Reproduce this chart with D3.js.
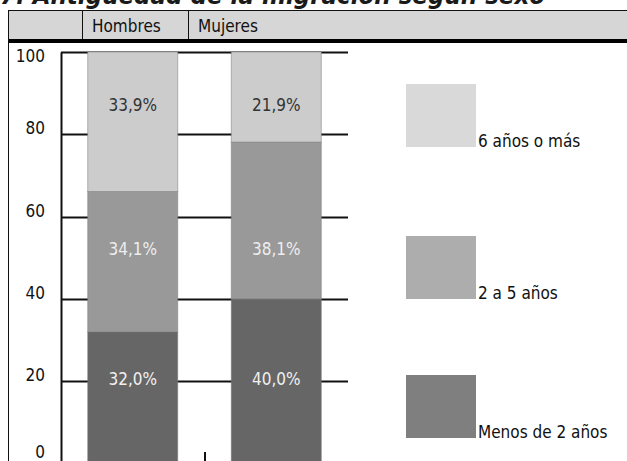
<!DOCTYPE html>
<html>
<head>
<meta charset="utf-8">
<script src="https://cdn.jsdelivr.net/npm/d3@7"></script>
<style>
  html, body { margin: 0; padding: 0; background: #fff; }
  svg { display: block; }
  text { font-family: "Liberation Sans Narrow", "DejaVu Sans Condensed", "Roboto Condensed", sans-serif; }
</style>
</head>
<body>
<svg id="chart" width="627" height="461"></svg>
<script>
// Antigüedad de la migración por sexo (porcentaje acumulado)
const titleText = "7. Antigüedad de la migración según sexo";
const categories = ["Hombres", "Mujeres"];
const seriesNames = ["Menos de 2 años", "2 a 5 años", "6 años o más"];
const menosDe2 = [32.0, 40.0];
const de2a5 = [34.1, 38.1];
const seisOMas = [33.9, 21.9];
const yTicks = [0, 20, 40, 60, 80, 100];

const barColors = ["#666666", "#999999", "#cccccc"];
const legendColors = ["#7f7f7f", "#adadad", "#d9d9d9"];
const labelColors = ["#f0f0f0", "#eeeeee", "#333333"];

const fmt = v => v.toFixed(1).replace(".", ",") + "%";

const rows = categories.map((c, i) => ({
  cat: c,
  [seriesNames[0]]: menosDe2[i],
  [seriesNames[1]]: de2a5[i],
  [seriesNames[2]]: seisOMas[i]
}));
const stacked = d3.stack().keys(seriesNames)(rows);

const svg = d3.select("#chart");
const W = 627;

// Title (runs off the top edge)
svg.append("text")
  .attr("x", 0).attr("y", 4)
  .attr("font-weight", "bold").attr("font-style", "italic")
  .attr("font-size", 24).attr("fill", "#1a1a1a")
  .attr("textLength", 545).attr("lengthAdjust", "spacingAndGlyphs")
  .style("font-family", "'DejaVu Sans', sans-serif")
  .text(titleText);

// Header band with column names
const headerTop = 10, headerBottom = 39;
svg.append("rect").attr("x", 8).attr("y", headerTop).attr("width", W - 8).attr("height", headerBottom - headerTop)
  .attr("fill", "#d6d6d6");
svg.append("line").attr("x1", 8).attr("x2", W).attr("y1", headerTop + 0.5).attr("y2", headerTop + 0.5)
  .attr("stroke", "#111").attr("stroke-width", 1);
const headerCols = [82, 188];
headerCols.forEach(x => {
  svg.append("line").attr("x1", x + 0.5).attr("x2", x + 0.5).attr("y1", headerTop).attr("y2", headerBottom)
    .attr("stroke", "#111").attr("stroke-width", 1);
});
categories.forEach((c, i) => {
  svg.append("text").attr("x", headerCols[i] + 10).attr("y", 32)
    .attr("font-size", 17).attr("fill", "#111").text(c);
});
svg.append("rect").attr("x", 8).attr("y", headerBottom).attr("width", W - 8).attr("height", 4).attr("fill", "#000");
svg.append("line").attr("x1", 8.5).attr("x2", 8.5).attr("y1", headerTop).attr("y2", 461)
  .attr("stroke", "#111").attr("stroke-width", 1);

// Plot scales
const plotLeft = 61, plotRight = 348;
const y = d3.scaleLinear().domain([0, 100]).range([463.5, 52]);
const x = d3.scaleBand().domain(categories).range([plotLeft, plotRight]).paddingInner(0.373).paddingOuter(0.186);

// Grid lines
svg.append("g").selectAll("line").data(yTicks.filter(t => t > 0)).join("line")
  .attr("x1", plotLeft).attr("x2", plotRight)
  .attr("y1", d => Math.round(y(d)) + 0.5).attr("y2", d => Math.round(y(d)) + 0.5)
  .attr("stroke", "#111").attr("stroke-width", 2);

// Y axis; tick labels sit slightly above their grid lines, kept inside the frame
const yAxis = svg.append("g").attr("transform", `translate(${plotLeft},0)`)
  .call(d3.axisLeft(y).tickValues(yTicks).tickSize(0).tickPadding(16));
yAxis.select(".domain").attr("stroke", "#111").attr("stroke-width", 2);
yAxis.selectAll(".tick text")
  .attr("y", d => Math.min(Math.max(y(d) - 6, 56), 452) - y(d))
  .attr("font-size", 17).attr("fill", "#111")
  .style("font-family", "'Liberation Sans Narrow', 'DejaVu Sans Condensed', sans-serif");

// Bottom divider tick between categories
svg.append("line").attr("x1", 205).attr("x2", 205).attr("y1", 452).attr("y2", 463)
  .attr("stroke", "#111").attr("stroke-width", 2);

// Stacked bars
const layers = svg.append("g").selectAll("g").data(stacked).join("g")
  .attr("fill", (d, i) => barColors[i]);
layers.selectAll("rect").data(d => d).join("rect")
  .attr("x", d => x(d.data.cat))
  .attr("width", x.bandwidth())
  .attr("y", d => y(d[1]))
  .attr("height", d => y(d[0]) - y(d[1]))
  .attr("stroke", "#777").attr("stroke-opacity", 0.5).attr("stroke-width", 1);

// Value labels, set in fixed rows across both bars
const labelRows = [20.5, 52, 87];
stacked.forEach((layer, si) => {
  svg.append("g").selectAll("text").data(layer).join("text")
    .attr("x", d => x(d.data.cat) + x.bandwidth() / 2)
    .attr("y", y(labelRows[si]))
    .attr("dy", "0.35em")
    .attr("text-anchor", "middle")
    .attr("font-size", 17)
    .attr("fill", labelColors[si])
    .text(d => fmt(d[1] - d[0]));
});

// Legend
const legendY = [375, 236, 84];
seriesNames.forEach((name, i) => {
  svg.append("rect").attr("x", 406).attr("y", legendY[i]).attr("width", 70).attr("height", 63)
    .attr("fill", legendColors[i]);
  svg.append("text").attr("x", 478).attr("y", legendY[i] + 63)
    .attr("font-size", 17).attr("fill", "#111").text(name);
});
</script>
</body>
</html>
